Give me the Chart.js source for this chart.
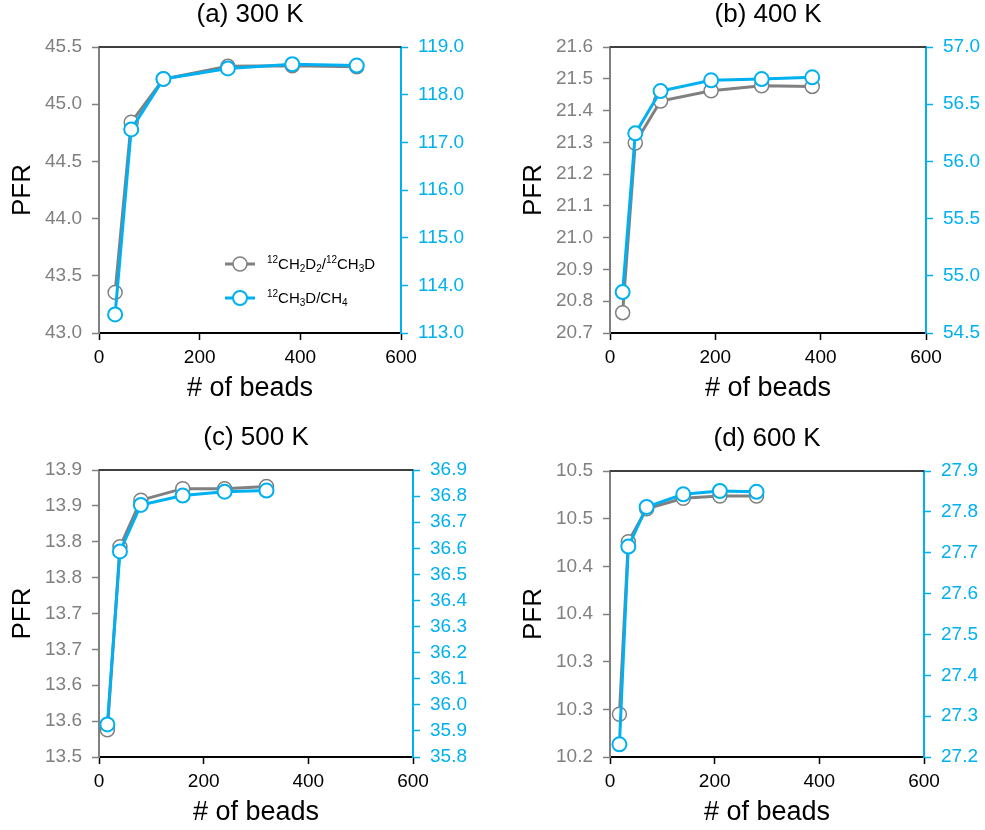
<!DOCTYPE html>
<html>
<head>
<meta charset="utf-8">
<script src="https://cdn.jsdelivr.net/npm/chart.js@4.4.0/dist/chart.umd.min.js"></script>
<style>
body { margin: 0; background: #fff; }
#wrap { position: relative; width: 985px; height: 830px; }
canvas { position: absolute; }
</style>
</head>
<body>
<div id="wrap">
  <canvas id="p300" width="492" height="415" style="left:0;top:0"></canvas>
  <canvas id="p400" width="493" height="415" style="left:492px;top:0"></canvas>
  <canvas id="p500" width="492" height="415" style="left:0;top:415px"></canvas>
  <canvas id="p600" width="493" height="415" style="left:492px;top:415px"></canvas>
</div>
<script>
// number of beads per temperature
const beads300 = [32, 64, 128, 256, 384, 512];
const beads400 = [24, 48, 96, 192, 288, 384];
const beads500 = [16, 40, 80, 160, 240, 320];
const beads600 = [18, 35, 70, 140, 210, 280];

// 12CH2D2/12CH3D (left axis)
const clumped300 = [43.355, 44.842, 45.22, 45.331, 45.337, 45.328];
const clumped400 = [20.764, 21.298, 21.430, 21.462, 21.478, 21.476];
const clumped500 = [13.538, 13.793, 13.858, 13.874, 13.874, 13.877];
const clumped600 = [10.2448, 10.4258, 10.4604, 10.4713, 10.4737, 10.4737];

// 12CH3D/CH4 (right axis)
const single300 = [113.39, 117.27, 118.33, 118.55, 118.64, 118.61];
const single400 = [54.858, 56.245, 56.615, 56.709, 56.720, 56.735];
const single500 = [35.925, 36.588, 36.766, 36.802, 36.817, 36.821];
const single600 = [27.231, 27.715, 27.812, 27.843, 27.851, 27.849];

// tick values and labels
const leftTicks300 = [43.0, 43.5, 44.0, 44.5, 45.0, 45.5];
const leftLabels300 = ['43.0', '43.5', '44.0', '44.5', '45.0', '45.5'];
const rightTicks300 = [113, 114, 115, 116, 117, 118, 119];
const rightLabels300 = ['113.0', '114.0', '115.0', '116.0', '117.0', '118.0', '119.0'];

const leftTicks400 = [20.7, 20.8, 20.9, 21.0, 21.1, 21.2, 21.3, 21.4, 21.5, 21.6];
const leftLabels400 = ['20.7', '20.8', '20.9', '21.0', '21.1', '21.2', '21.3', '21.4', '21.5', '21.6'];
const rightTicks400 = [54.5, 55.0, 55.5, 56.0, 56.5, 57.0];
const rightLabels400 = ['54.5', '55.0', '55.5', '56.0', '56.5', '57.0'];

const leftTicks500 = [13.5, 13.55, 13.6, 13.65, 13.7, 13.75, 13.8, 13.85, 13.9];
const leftLabels500 = ['13.5', '13.6', '13.6', '13.7', '13.7', '13.8', '13.8', '13.9', '13.9'];
const rightTicks500 = [35.8, 35.9, 36.0, 36.1, 36.2, 36.3, 36.4, 36.5, 36.6, 36.7, 36.8, 36.9];
const rightLabels500 = ['35.8', '35.9', '36.0', '36.1', '36.2', '36.3', '36.4', '36.5', '36.6', '36.7', '36.8', '36.9'];

const leftTicks600 = [10.2, 10.25, 10.3, 10.35, 10.4, 10.45, 10.5];
const leftLabels600 = ['10.2', '10.3', '10.3', '10.4', '10.4', '10.5', '10.5'];
const rightTicks600 = [27.2, 27.3, 27.4, 27.5, 27.6, 27.7, 27.8, 27.9];
const rightLabels600 = ['27.2', '27.3', '27.4', '27.5', '27.6', '27.7', '27.8', '27.9'];

const xTicks = [0, 200, 400, 600];
const seriesNames = ['12CH2D2/12CH3D', '12CH3D/CH4'];
// legend text with super/subscripts
const legendParts = [
    [['12', 'sup'], ['CH', ''], ['2', 'sub'], ['D', ''], ['2', 'sub'], ['/', ''], ['12', 'sup'], ['CH', ''], ['3', 'sub'], ['D', '']],
    [['12', 'sup'], ['CH', ''], ['3', 'sub'], ['D/CH', ''], ['4', 'sub']]
];

const GRAY = '#808080';
const BLUE = '#00B0F0';
const FONT = '"Liberation Sans", Arial, sans-serif';

Chart.defaults.font.family = FONT;

function drawLegend(chart) {
    const ctx = chart.ctx;
    const a = chart.chartArea;
    const colors = [GRAY, BLUE];
    const widths = [1.5, 2];

    legendParts.forEach((parts, i) => {
        const y = a.bottom - 69 + i * 34;
        const x0 = a.left + 126;

        ctx.strokeStyle = colors[i];
        ctx.lineWidth = 3;
        ctx.beginPath();
        ctx.moveTo(x0, y);
        ctx.lineTo(x0 + 30, y);
        ctx.stroke();

        ctx.beginPath();
        ctx.arc(x0 + 15, y, 7, 0, Math.PI * 2);
        ctx.fillStyle = '#fff';
        ctx.fill();
        ctx.lineWidth = widths[i];
        ctx.stroke();

        let x = x0 + 42;
        ctx.fillStyle = '#000';
        ctx.textAlign = 'left';
        ctx.textBaseline = 'alphabetic';
        parts.forEach(([txt, kind]) => {
            let dy = 5;
            if (kind === 'sup') {
                ctx.font = '10px ' + FONT;
                dy = -1;
            } else if (kind === 'sub') {
                ctx.font = '10px ' + FONT;
                dy = 8;
            } else {
                ctx.font = '15px ' + FONT;
            }
            ctx.fillText(txt, x, y + dy);
            x += ctx.measureText(txt).width;
        });
    });
}

const panelDeco = {
    id: 'panelDeco',
    afterDraw(chart, args, opts) {
        const ctx = chart.ctx;
        const a = chart.chartArea;
        ctx.save();
        // top frame line
        ctx.strokeStyle = '#404040';
        ctx.lineWidth = 2;
        ctx.beginPath();
        ctx.moveTo(a.left, a.top);
        ctx.lineTo(a.right, a.top);
        ctx.stroke();
        // panel title
        ctx.fillStyle = '#000';
        ctx.font = '26px ' + FONT;
        ctx.textAlign = 'center';
        ctx.textBaseline = 'middle';
        ctx.fillText(opts.title, (a.left + a.right) / 2, a.top - 32);
        if (opts.legend) drawLegend(chart);
        ctx.restore();
    }
};

function yAxis(side, ticksList, labels, color, width) {
    return {
        type: 'linear',
        position: side,
        min: ticksList[0],
        max: ticksList[ticksList.length - 1],
        afterBuildTicks: s => { s.ticks = ticksList.map(v => ({ value: v })); },
        ticks: {
            color: color,
            font: { size: 19 },
            padding: 10,
            callback: (v, i) => labels[i]
        },
        grid: { drawOnChartArea: false, tickLength: 7, tickColor: color, tickWidth: 1.5 },
        border: { color: color, width: 2 },
        title: {
            display: side === 'left',
            text: 'PFR',
            color: '#000',
            font: { size: 26 },
            padding: { top: 7, bottom: 0 }
        },
        afterFit: s => { s.width = width; }
    };
}

function makePanel(id, title, beads, leftVals, rightVals, lt, ll, rt, rl, pad, rightWidth, legend) {
    const ctx = document.getElementById(id).getContext('2d');

    return new Chart(ctx, {
        type: 'line',
        data: {
            datasets: [{
                label: seriesNames[0],
                data: beads.map((b, i) => ({ x: b, y: leftVals[i] })),
                yAxisID: 'y',
                borderColor: GRAY,
                borderWidth: 3,
                pointRadius: 7,
                pointBackgroundColor: '#fff',
                pointBorderColor: GRAY,
                pointBorderWidth: 1.5,
                tension: 0,
                order: 1
            }, {
                label: seriesNames[1],
                data: beads.map((b, i) => ({ x: b, y: rightVals[i] })),
                yAxisID: 'y1',
                borderColor: BLUE,
                borderWidth: 3,
                pointRadius: 7,
                pointBackgroundColor: '#fff',
                pointBorderColor: BLUE,
                pointBorderWidth: 2,
                tension: 0,
                order: 0
            }]
        },
        options: {
            responsive: false,
            animation: false,
            layout: { padding: pad },
            plugins: {
                legend: { display: false },
                tooltip: { enabled: false },
                panelDeco: { title: title, legend: legend }
            },
            scales: {
                x: {
                    type: 'linear',
                    position: 'bottom',
                    min: xTicks[0],
                    max: xTicks[xTicks.length - 1],
                    afterBuildTicks: s => { s.ticks = xTicks.map(v => ({ value: v })); },
                    ticks: { color: '#000', font: { size: 19 }, padding: 6, maxRotation: 0 },
                    grid: { drawOnChartArea: false, tickLength: 7, tickColor: '#000', tickWidth: 1.5 },
                    border: { color: '#000', width: 2 },
                    title: {
                        display: true,
                        text: '# of beads',
                        color: '#000',
                        font: { size: 27 },
                        padding: { top: 0, bottom: 1 }
                    },
                    afterFit: s => { s.height = 73; }
                },
                y: yAxis('left', lt, ll, GRAY, 99),
                y1: yAxis('right', rt, rl, BLUE, rightWidth)
            }
        },
        plugins: [panelDeco]
    });
}

makePanel('p300', '(a) 300 K', beads300, clumped300, single300,
    leftTicks300, leftLabels300, rightTicks300, rightLabels300,
    { left: 0, top: 47, right: 0, bottom: 9 }, 91, true);
makePanel('p400', '(b) 400 K', beads400, clumped400, single400,
    leftTicks400, leftLabels400, rightTicks400, rightLabels400,
    { left: 19, top: 47, right: 0, bottom: 9 }, 59, false);
makePanel('p500', '(c) 500 K', beads500, clumped500, single500,
    leftTicks500, leftLabels500, rightTicks500, rightLabels500,
    { left: 0, top: 55, right: 0, bottom: 0 }, 79, false);
makePanel('p600', '(d) 600 K', beads600, clumped600, single600,
    leftTicks600, leftLabels600, rightTicks600, rightLabels600,
    { left: 19, top: 56, right: 0, bottom: 0 }, 61, false);
</script>
</body>
</html>
